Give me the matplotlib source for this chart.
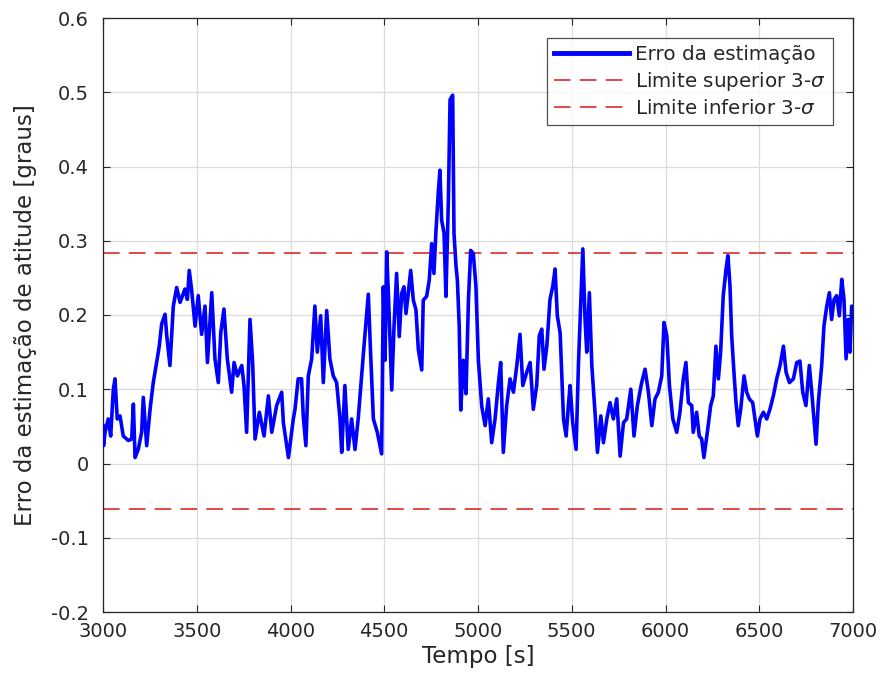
import matplotlib
matplotlib.use("Agg")
import matplotlib.pyplot as plt

time_s = [3000, 3003, 3011, 3028, 3041, 3055, 3064, 3076, 3091, 3108, 3135, 3153, 3162, 3171, 3188, 3206,
          3215, 3233, 3251, 3268, 3286, 3300, 3313, 3331, 3340, 3357, 3375, 3393, 3411, 3437, 3450, 3460,
          3473, 3491, 3508, 3526, 3544, 3557, 3580, 3597, 3615, 3628, 3645, 3663, 3686, 3699, 3717, 3740,
          3752, 3766, 3784, 3798, 3811, 3834, 3859, 3882, 3900, 3926, 3953, 3962, 3989,
          4015, 4024, 4041, 4059, 4068, 4082, 4095, 4113, 4130, 4143, 4161, 4175, 4193, 4210, 4228, 4246,
          4264, 4273, 4290, 4308, 4326, 4344, 4361, 4379, 4392, 4415, 4427, 4442, 4463, 4486,
          4495, 4504, 4513, 4522, 4531, 4540, 4552, 4566, 4580, 4593, 4605, 4616, 4628, 4641, 4655, 4669,
          4682, 4700, 4708, 4726, 4740, 4753, 4765, 4776, 4788, 4797, 4806, 4819, 4829, 4842, 4851, 4865,
          4872, 4883, 4890, 4900, 4908, 4922, 4936, 4949, 4961, 4975, 4989, 5002, 5020,
          5038, 5055, 5073, 5091, 5109, 5121, 5135, 5153, 5171, 5189, 5207, 5224, 5239, 5260, 5278, 5295,
          5313, 5327, 5340, 5352, 5367, 5384, 5399, 5411, 5423, 5438, 5447, 5456, 5470, 5482, 5491, 5505,
          5523, 5536, 5548, 5559, 5571, 5580, 5594, 5607, 5624, 5637, 5655, 5669, 5687, 5704, 5722, 5740,
          5758, 5776, 5793, 5815, 5832, 5850, 5873, 5891, 5909, 5927, 5944, 5962, 5980, 5992, 6007, 6021,
          6039, 6060,
          6077, 6095, 6109, 6122, 6140, 6148, 6166, 6180, 6193, 6205, 6223, 6241, 6255, 6269, 6282, 6294,
          6308, 6323, 6333, 6344, 6353, 6365, 6376, 6388, 6401, 6419, 6433, 6447, 6465, 6477, 6490, 6504,
          6522, 6540, 6557, 6575, 6593, 6611, 6629, 6643, 6661, 6682, 6700, 6717, 6732, 6749, 6767, 6780,
          6792, 6803, 6815, 6833, 6845, 6860, 6874, 6886, 6899, 6913, 6927, 6940, 6952, 6963, 6975, 6984,
          6993, 7000]

error_deg = [0.051, 0.024, 0.042, 0.060, 0.037, 0.100, 0.114, 0.060, 0.064, 0.037, 0.031, 0.033, 0.080, 0.008, 0.019, 0.042,
             0.089, 0.024, 0.073, 0.109, 0.136, 0.158, 0.188, 0.201, 0.172, 0.132, 0.212, 0.237, 0.217, 0.235, 0.221, 0.260,
             0.233, 0.185, 0.226, 0.174, 0.212, 0.136, 0.230, 0.141, 0.109, 0.176, 0.208, 0.141, 0.096, 0.136, 0.118, 0.132,
             0.105, 0.042, 0.194, 0.136, 0.033, 0.069, 0.037, 0.091, 0.042, 0.078, 0.096, 0.055, 0.008,
             0.060, 0.073, 0.114, 0.114, 0.064, 0.024, 0.118, 0.141, 0.212, 0.150, 0.199, 0.109, 0.206, 0.141, 0.118, 0.109,
             0.060, 0.015, 0.105, 0.019, 0.060, 0.019, 0.060, 0.118, 0.158, 0.228, 0.150, 0.060, 0.042, 0.013,
             0.238, 0.139, 0.285, 0.229, 0.162, 0.099, 0.184, 0.256, 0.171, 0.229, 0.238, 0.202, 0.229, 0.260, 0.220, 0.207,
             0.153, 0.126, 0.220, 0.225, 0.247, 0.296, 0.256, 0.314, 0.364, 0.395, 0.328, 0.310, 0.225, 0.355, 0.490, 0.496,
             0.310, 0.265, 0.247, 0.184, 0.072, 0.139, 0.094, 0.220, 0.287, 0.283, 0.238, 0.139, 0.077,
             0.051, 0.087, 0.028, 0.060, 0.109, 0.136, 0.015, 0.078, 0.114, 0.096, 0.132, 0.174, 0.105, 0.123, 0.136, 0.073,
             0.105, 0.172, 0.181, 0.127, 0.158, 0.221, 0.239, 0.262, 0.199, 0.176, 0.118, 0.060, 0.037, 0.078, 0.105, 0.055,
             0.019, 0.136, 0.217, 0.289, 0.194, 0.150, 0.230, 0.132, 0.069, 0.015, 0.064, 0.028, 0.060, 0.082, 0.060, 0.087,
             0.010, 0.055, 0.060, 0.100, 0.037, 0.078, 0.109, 0.127, 0.096, 0.051, 0.087, 0.096, 0.118, 0.190, 0.172, 0.105,
             0.060, 0.042,
             0.069, 0.114, 0.136, 0.082, 0.078, 0.042, 0.069, 0.037, 0.033, 0.008, 0.042, 0.078, 0.091, 0.158, 0.114, 0.150,
             0.226, 0.262, 0.280, 0.239, 0.172, 0.123, 0.082, 0.051, 0.073, 0.118, 0.096, 0.087, 0.082, 0.060, 0.037, 0.060,
             0.069, 0.060, 0.073, 0.091, 0.114, 0.132, 0.158, 0.123, 0.109, 0.114, 0.136, 0.138, 0.096, 0.078, 0.132, 0.096,
             0.060, 0.026, 0.082, 0.132, 0.185, 0.212, 0.230, 0.194, 0.221, 0.226, 0.199, 0.248, 0.221, 0.141, 0.194, 0.150,
             0.212, 0.208]

upper_limit = 0.2835
lower_limit = -0.061

x_ticks = [3000, 3500, 4000, 4500, 5000, 5500, 6000, 6500, 7000]
y_ticks = [-0.2, -0.1, 0, 0.1, 0.2, 0.3, 0.4, 0.5, 0.6]
y_tick_labels = ["-0.2", "-0.1", "0", "0.1", "0.2", "0.3", "0.4", "0.5", "0.6"]

plt.rcParams['font.family'] = ['DejaVu Sans']

fig = plt.figure(figsize=(8.83, 6.84), dpi=100)
ax = fig.add_axes([103/883, 1 - 612/684, 750/883, 594/684])

ax.plot(time_s, error_deg, color=(0, 0, 1), lw=2.6, label='Erro da estimação', zorder=3)
ax.axhline(upper_limit, color='#dd2a2a', lw=1.2, dashes=(10, 5.5), label=r'Limite superior 3-$\sigma$', zorder=2)
ax.axhline(lower_limit, color='#dd2a2a', lw=1.2, dashes=(10, 5.5), label=r'Limite inferior 3-$\sigma$', zorder=2)

ax.set_xlim(3000, 7000)
ax.set_ylim(-0.2, 0.6)
ax.set_xticks(x_ticks)
ax.set_yticks(y_ticks)
ax.set_yticklabels(y_tick_labels)
ax.grid(True, color='#dcdcdc', lw=0.9)
ax.set_axisbelow(True)

tc = '#262626'
ax.tick_params(direction='in', length=5, width=0.8, top=True, right=True,
               colors=tc, labelsize=14)
ax.tick_params(axis='x', pad=7)
ax.tick_params(axis='y', pad=10)
for s in ax.spines.values():
    s.set_color(tc)
    s.set_linewidth(0.9)

ax.set_xlabel('Tempo [s]', fontsize=16.5, color=tc, labelpad=3)
ax.set_ylabel('Erro da estimação de atitude [graus]', fontsize=16.5, color=tc, labelpad=10)

leg = ax.legend(loc='upper right', bbox_to_anchor=(833/883, 1 - 38/684), bbox_transform=fig.transFigure,
                fontsize=14.3, frameon=True, fancybox=False, handlelength=3.8, handletextpad=0.3,
                borderpad=0.35, labelspacing=0.3, borderaxespad=0)
leg.get_frame().set_edgecolor('#262626')
leg.get_frame().set_linewidth(0.9)
for t in leg.get_texts():
    t.set_color(tc)
leg.get_lines()[0].set_linewidth(3.5)

fig.savefig('out.png', dpi=100, facecolor='white')
